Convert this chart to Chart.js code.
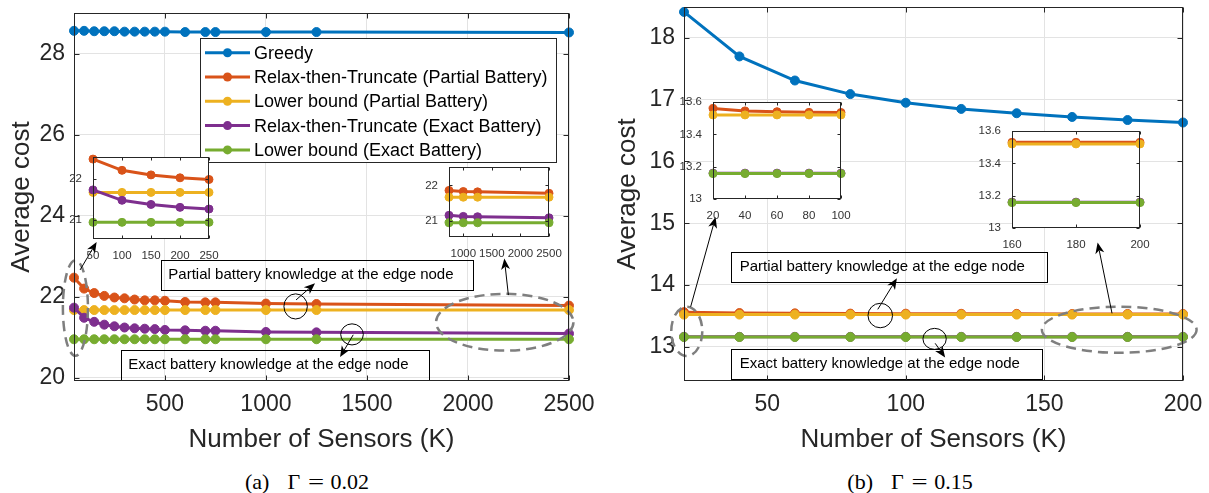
<!DOCTYPE html>
<html>
<head>
<meta charset="utf-8">
<script src="https://cdn.jsdelivr.net/npm/chart.js@4.4.0/dist/chart.umd.min.js"></script>
<style>
  html, body { margin: 0; padding: 0; background: #fff; }
  #page { position: relative; width: 1209px; height: 493px; overflow: hidden; }
  canvas { position: absolute; }
  .cap { position: absolute; top: 482px; transform: translate(-50%, -50%); white-space: nowrap; line-height: 24px;
         font-family: "Liberation Serif", "Times New Roman", serif; font-size: 22px; color: #000; }
  .cap .g { margin-left: 18px; }
  .cap .eq { margin: 0 8px 0 10px; display: inline-block; transform: scaleX(1.3); }
</style>
</head>
<body>
<div id="page">
  <canvas id="mainA"></canvas>
  <canvas id="mainB"></canvas>
  <canvas id="insetA1"></canvas>
  <canvas id="insetA2"></canvas>
  <canvas id="insetB1"></canvas>
  <canvas id="insetB2"></canvas>
  <div class="cap" style="left:307px">(a)<span class="g">Γ</span><span class="eq">=</span>0.02</div>
  <div class="cap" style="left:910px">(b)<span class="g">Γ</span><span class="eq">=</span>0.15</div>
</div>
<script>
// ---- data ----
const seriesNames = [
  "Greedy",
  "Relax-then-Truncate (Partial Battery)",
  "Lower bound (Partial Battery)",
  "Relax-then-Truncate (Exact Battery)",
  "Lower bound (Exact Battery)"
];
const seriesColors = ["#0072BD", "#D95319", "#EDB120", "#7E2F8E", "#77AC30"];

// (a) Gamma = 0.02
const sensorsA = [50, 100, 150, 200, 250, 300, 350, 400, 450, 500, 600, 700, 750, 1000, 1250, 2500];
const greedyA = [28.56, 28.56, 28.55, 28.55, 28.55, 28.54, 28.54, 28.54, 28.54, 28.54, 28.53, 28.53, 28.53, 28.53, 28.53, 28.52];
const rttPartialA = [22.47, 22.20, 22.09, 22.02, 21.98, 21.96, 21.93, 21.91, 21.91, 21.90, 21.87, 21.86, 21.86, 21.83, 21.82, 21.78];
const lbPartialA = [21.67, 21.67, 21.67, 21.67, 21.67, 21.67, 21.67, 21.67, 21.67, 21.67, 21.67, 21.67, 21.67, 21.67, 21.67, 21.67];
const rttExactA = [21.73, 21.48, 21.38, 21.31, 21.27, 21.24, 21.22, 21.21, 21.20, 21.18, 21.17, 21.16, 21.16, 21.13, 21.12, 21.09];
const lbExactA = [20.95, 20.95, 20.95, 20.95, 20.95, 20.95, 20.95, 20.95, 20.95, 20.95, 20.95, 20.95, 20.95, 20.95, 20.95, 20.95];
const xTicksA = [500, 1000, 1500, 2000, 2500];
const yTicksA = [20, 22, 24, 26, 28];

// (b) Gamma = 0.15
const sensorsB = [20, 40, 60, 80, 100, 120, 140, 160, 180, 200];
const greedyB = [18.42, 17.70, 17.31, 17.09, 16.95, 16.85, 16.78, 16.72, 16.67, 16.63];
const rttPartialB = [13.56, 13.545, 13.54, 13.536, 13.535, 13.533, 13.532, 13.53, 13.53, 13.53];
const lbPartialB = [13.52, 13.52, 13.52, 13.52, 13.52, 13.52, 13.52, 13.52, 13.52, 13.52];
const rttExactB = [13.16, 13.16, 13.16, 13.16, 13.16, 13.16, 13.16, 13.16, 13.16, 13.16];
const lbExactB = [13.157, 13.157, 13.157, 13.157, 13.157, 13.157, 13.157, 13.157, 13.157, 13.157];
const xTicksB = [50, 100, 150, 200];
const yTicksB = [13, 14, 15, 16, 17, 18];

// inset tick labels
const insetTicksA1 = { x: [50, 100, 150, 200, 250], y: [21, 22] };
const insetTicksA2 = { x: [1000, 1500, 2000, 2500], y: [21, 22] };
const insetTicksB1 = { x: [20, 40, 60, 80, 100], y: [13, 13.2, 13.4, 13.6] };
const insetTicksB2 = { x: [160, 180, 200], y: [13, 13.2, 13.4, 13.6] };

const boxTextPartial = "Partial battery knowledge at the edge node";
const boxTextExact = "Exact battery knowledge at the edge node";

Chart.defaults.font.family = '"Liberation Sans", Arial, Helvetica, sans-serif';
Chart.defaults.color = "#262626";

// ---- plugins ----
const frame = {
  id: "frame",
  beforeDraw(chart, args, opts) {
    if (!opts.fill) return;
    const { ctx, chartArea: a } = chart;
    ctx.save();
    ctx.fillStyle = "#fff";
    ctx.fillRect(a.left, a.top, a.right - a.left, a.bottom - a.top);
    ctx.restore();
  },
  afterDraw(chart, args, opts) {
    const { ctx, chartArea: a, scales: { x, y } } = chart;
    const t = opts.tick || 5;
    const L = Math.round(a.left) + 0.5, R = Math.round(a.right) - 0.5;
    const T = Math.round(a.top) + 0.5, B = Math.round(a.bottom) - 0.5;
    ctx.save();
    ctx.strokeStyle = "#262626";
    ctx.lineWidth = 1;
    ctx.strokeRect(L, T, R - L, B - T);
    ctx.beginPath();
    x.ticks.forEach(k => {
      const p = Math.round(x.getPixelForValue(k.value)) + 0.5;
      ctx.moveTo(p, B); ctx.lineTo(p, B - t);
      ctx.moveTo(p, T); ctx.lineTo(p, T + t);
    });
    y.ticks.forEach(k => {
      const p = Math.round(y.getPixelForValue(k.value)) + 0.5;
      ctx.moveTo(L, p); ctx.lineTo(L + t, p);
      ctx.moveTo(R, p); ctx.lineTo(R - t, p);
    });
    ctx.stroke();
    ctx.restore();
  }
};

function arrow(ctx, x1, y1, x2, y2) {
  const ang = Math.atan2(y2 - y1, x2 - x1);
  const len = 11, half = 4.5;
  const bx = x2 - len * Math.cos(ang), by = y2 - len * Math.sin(ang);
  const nx = -Math.sin(ang), ny = Math.cos(ang);
  ctx.beginPath();
  ctx.moveTo(x1, y1);
  ctx.lineTo(bx + 3 * Math.cos(ang), by + 3 * Math.sin(ang));
  ctx.stroke();
  ctx.beginPath();
  ctx.moveTo(x2, y2);
  ctx.lineTo(bx + nx * half, by + ny * half);
  ctx.lineTo(bx + 3 * Math.cos(ang), by + 3 * Math.sin(ang));
  ctx.lineTo(bx - nx * half, by - ny * half);
  ctx.closePath();
  ctx.fill();
}

const annotate = {
  id: "annotate",
  afterDatasetsDraw(chart, args, opts) {
    const { ctx, scales: { x, y } } = chart;
    const px = v => x.getPixelForValue(v), py = v => y.getPixelForValue(v);
    ctx.save();
    (opts.items || []).forEach(a => {
      if (a.type === "ellipse") {
        const cx = px(a.cx), cy = py(a.cy);
        const rx = Math.abs(px(a.cx + a.rx) - cx), ry = Math.abs(py(a.cy + a.ry) - cy);
        ctx.beginPath();
        ctx.ellipse(cx, cy, rx, ry, 0, 0, Math.PI * 2);
        if (a.dashed) {
          ctx.setLineDash([10, 6]);
          ctx.strokeStyle = "#7f7f7f";
          ctx.lineWidth = 2.5;
        } else {
          ctx.setLineDash([]);
          ctx.strokeStyle = "#000";
          ctx.lineWidth = 1;
        }
        ctx.stroke();
        ctx.setLineDash([]);
      } else if (a.type === "box") {
        const x1 = Math.round(px(a.x1)) + 0.5, x2 = Math.round(px(a.x2)) + 0.5;
        const y1 = Math.round(py(a.y1)) + 0.5, y2 = Math.round(py(a.y2)) + 0.5;
        ctx.strokeStyle = "#000";
        ctx.lineWidth = 1;
        ctx.strokeRect(x1, y1, x2 - x1, y2 - y1);
        ctx.fillStyle = "#000";
        ctx.font = '15px "Liberation Sans", Arial, sans-serif';
        ctx.textBaseline = "middle";
        ctx.textAlign = "left";
        ctx.fillText(a.text, px(a.tx), py(a.ty));
      } else if (a.type === "arrow") {
        ctx.strokeStyle = "#000";
        ctx.fillStyle = "#000";
        ctx.lineWidth = 1;
        arrow(ctx, px(a.x1), py(a.y1), px(a.x2), py(a.y2));
      }
    });
    ctx.restore();
  },
  afterDraw(chart, args, opts) {
    const L = opts.legend;
    if (!L) return;
    const ctx = chart.ctx;
    ctx.save();
    ctx.fillStyle = "#fff";
    ctx.fillRect(L.x1, L.y1, L.x2 - L.x1, L.y2 - L.y1);
    ctx.strokeStyle = "#262626";
    ctx.lineWidth = 1;
    ctx.strokeRect(L.x1 + 0.5, L.y1 + 0.5, L.x2 - L.x1, L.y2 - L.y1);
    ctx.font = '18px "Liberation Sans", Arial, sans-serif';
    ctx.textBaseline = "middle";
    seriesNames.forEach((name, i) => {
      const yy = L.row0 + i * L.step;
      ctx.strokeStyle = seriesColors[i];
      ctx.lineWidth = 3;
      ctx.beginPath();
      ctx.moveTo(L.lx1, yy); ctx.lineTo(L.lx2, yy);
      ctx.stroke();
      ctx.fillStyle = seriesColors[i];
      ctx.beginPath();
      ctx.arc((L.lx1 + L.lx2) / 2, yy, 4.5, 0, Math.PI * 2);
      ctx.fill();
      ctx.fillStyle = "#000";
      ctx.fillText(name, L.tx, yy + 1);
    });
    ctx.restore();
  }
};

// ---- helpers ----
function lineSets(xs, series, width, radius, keep) {
  return series.map((ys, i) => ({
    data: xs.map((x, j) => ({ x, y: ys[j] })).filter(p => keep(p.x)),
    borderColor: seriesColors[i],
    backgroundColor: seriesColors[i],
    pointBackgroundColor: seriesColors[i],
    pointBorderColor: seriesColors[i],
    borderWidth: width,
    pointRadius: radius,
    pointBorderWidth: 1,
    tension: 0,
    clip: false,
    order: series.length - i
  }));
}

function fmt(v) { return String(v); }

function setupCanvas(id, left, top, w, h) {
  const c = document.getElementById(id);
  c.width = w; c.height = h;
  c.style.left = left + "px"; c.style.top = top + "px";
  c.style.width = w + "px"; c.style.height = h + "px";
  return c;
}

function mainChart(id, left, width, area, xr, yr, xTicks, yTicks, xs, series, yTitlePad, items, legend) {
  const height = 460;
  const c = setupCanvas(id, left, 0, width, height);
  return new Chart(c, {
    type: "line",
    data: { datasets: lineSets(xs, series, 3, 4.5, () => true) },
    options: {
      responsive: false, animation: false, devicePixelRatio: 1,
      layout: { padding: { left: 0, top: area.top, right: width - area.right, bottom: 0 } },
      plugins: {
        legend: { display: false }, tooltip: { enabled: false },
        frame: { tick: 5 },
        annotate: { items, legend }
      },
      scales: {
        x: {
          type: "linear", min: xr[0], max: xr[1],
          afterBuildTicks: s => { s.ticks = xTicks.map(v => ({ value: v })); },
          afterFit: s => { s.height = height - area.bottom; s.paddingLeft = 0; s.paddingRight = 0; },
          ticks: { autoSkip: false, maxRotation: 0, minRotation: 0, padding: 10, font: { size: 23 }, callback: fmt },
          grid: { color: "#e3e3e3", drawTicks: false },
          border: { display: false },
          title: { display: true, text: "Number of Sensors (K)", font: { size: 26 }, padding: { top: 0, bottom: 5 } }
        },
        y: {
          type: "linear", min: yr[0], max: yr[1],
          afterBuildTicks: s => { s.ticks = yTicks.map(v => ({ value: v })); },
          afterFit: s => { s.width = area.left; s.paddingTop = 0; s.paddingBottom = 0; },
          ticks: { autoSkip: false, padding: 9, font: { size: 23 }, callback: fmt },
          grid: { color: "#e3e3e3", drawTicks: false },
          border: { display: false },
          title: { display: true, text: "Average cost", font: { size: 26 }, padding: { top: yTitlePad, bottom: 0 } }
        }
      }
    },
    plugins: [frame, annotate]
  });
}

function insetChart(id, box, xr, yr, ticks, xs, series) {
  const padL = 40, padT = 8, padR = 20, padB = 22;
  const w = box.right - box.left + padL + padR;
  const h = box.bottom - box.top + padT + padB;
  const c = setupCanvas(id, box.left - padL, box.top - padT, w, h);
  return new Chart(c, {
    type: "line",
    data: { datasets: lineSets(xs, series, 3, 4, x => x >= xr[0] && x <= xr[1]) },
    options: {
      responsive: false, animation: false, devicePixelRatio: 1,
      layout: { padding: { left: 0, top: padT, right: padR, bottom: 0 } },
      plugins: { legend: { display: false }, tooltip: { enabled: false }, frame: { fill: true, tick: 3 } },
      scales: {
        x: {
          type: "linear", min: xr[0], max: xr[1],
          afterBuildTicks: s => { s.ticks = ticks.x.map(v => ({ value: v })); },
          afterFit: s => { s.height = padB; s.paddingLeft = 0; s.paddingRight = 0; },
          ticks: { autoSkip: false, maxRotation: 0, minRotation: 0, padding: 2, color: "#333", font: { size: 11.5 }, callback: fmt },
          grid: { display: false },
          border: { display: false }
        },
        y: {
          type: "linear", min: yr[0], max: yr[1],
          afterBuildTicks: s => { s.ticks = ticks.y.map(v => ({ value: v })); },
          afterFit: s => { s.width = padL; s.paddingTop = 0; s.paddingBottom = 0; },
          ticks: { autoSkip: false, padding: 3, color: "#333", font: { size: 11.5 }, callback: fmt },
          grid: { display: false },
          border: { display: false }
        }
      }
    },
    plugins: [frame]
  });
}

// ---- annotations (data coordinates) ----
const notesA = [
  { type: "box", x1: 481, y1: 22.90, x2: 2026, y2: 22.16, text: boxTextPartial, tx: 517, ty: 22.53 },
  { type: "box", x1: 281, y1: 20.68, x2: 1809, y2: 19.94, text: boxTextExact, tx: 319, ty: 20.31 },
  { type: "ellipse", dashed: true, cx: 57, cy: 21.72, rx: 62, ry: 1.18 },
  { type: "ellipse", dashed: true, cx: 2182, cy: 21.37, rx: 340, ry: 0.70 },
  { type: "ellipse", cx: 1147, cy: 21.76, rx: 58, ry: 0.31 },
  { type: "ellipse", cx: 1426, cy: 21.07, rx: 56, ry: 0.26 },
  { type: "arrow", x1: 1149, y1: 21.92, x2: 1243, y2: 22.33 },
  { type: "arrow", x1: 1432, y1: 21.06, x2: 1367, y2: 20.51 },
  { type: "arrow", x1: 80, y1: 22.66, x2: 162, y2: 23.35 },
  { type: "arrow", x1: 2200, y1: 22.04, x2: 2180, y2: 22.94 }
];
const notesB = [
  { type: "box", x1: 37.1, y1: 14.539, x2: 150.9, y2: 14.043, text: boxTextPartial, tx: 40.1, ty: 14.296 },
  { type: "box", x1: 37.1, y1: 12.962, x2: 149.3, y2: 12.47, text: boxTextExact, tx: 40.1, ty: 12.719 },
  { type: "ellipse", dashed: true, cx: 21.0, cy: 13.249, rx: 5.6, ry: 0.40 },
  { type: "ellipse", dashed: true, cx: 177, cy: 13.275, rx: 27.9, ry: 0.373 },
  { type: "ellipse", cx: 90.8, cy: 13.505, rx: 4.43, ry: 0.198 },
  { type: "ellipse", cx: 110.4, cy: 13.127, rx: 4.21, ry: 0.17 },
  { type: "arrow", x1: 89.9, y1: 13.605, x2: 96.8, y2: 14.108 },
  { type: "arrow", x1: 110.6, y1: 13.055, x2: 114.2, y2: 12.827 },
  { type: "arrow", x1: 22.4, y1: 13.647, x2: 31.4, y2: 15.1 },
  { type: "arrow", x1: 174.4, y1: 13.54, x2: 169.2, y2: 14.688 }
];

const seriesA = [greedyA, rttPartialA, lbPartialA, rttExactA, lbExactA];
const seriesB = [greedyB, rttPartialB, lbPartialB, rttExactB, lbExactB];

mainChart("mainA", 0, 600, { left: 74, top: 13, right: 569, bottom: 381 },
  [50, 2500], [19.92, 29], xTicksA, yTicksA, sensorsA, seriesA, 6,
  notesA,
  { x1: 200, y1: 38, x2: 556, y2: 162, row0: 52.7, step: 24.3, lx1: 205, lx2: 250, tx: 254 });

mainChart("mainB", 600, 609, { left: 84, top: 7, right: 583, bottom: 381 },
  [20, 200], [12.445, 18.5], xTicksB, yTicksB, sensorsB, seriesB, 12,
  notesB, null);

insetChart("insetA1", { left: 93, top: 157, right: 209, bottom: 239 }, [50, 250], [20.55, 22.52], insetTicksA1, sensorsA, seriesA);
insetChart("insetA2", { left: 449, top: 167, right: 549, bottom: 237 }, [750, 2500], [20.55, 22.52], insetTicksA2, sensorsA, seriesA);
insetChart("insetB1", { left: 713, top: 102, right: 841, bottom: 199 }, [20, 100], [13, 13.6], insetTicksB1, sensorsB, seriesB);
insetChart("insetB2", { left: 1012, top: 131, right: 1140, bottom: 228 }, [160, 200], [13, 13.6], insetTicksB2, sensorsB, seriesB);
</script>
</body>
</html>
